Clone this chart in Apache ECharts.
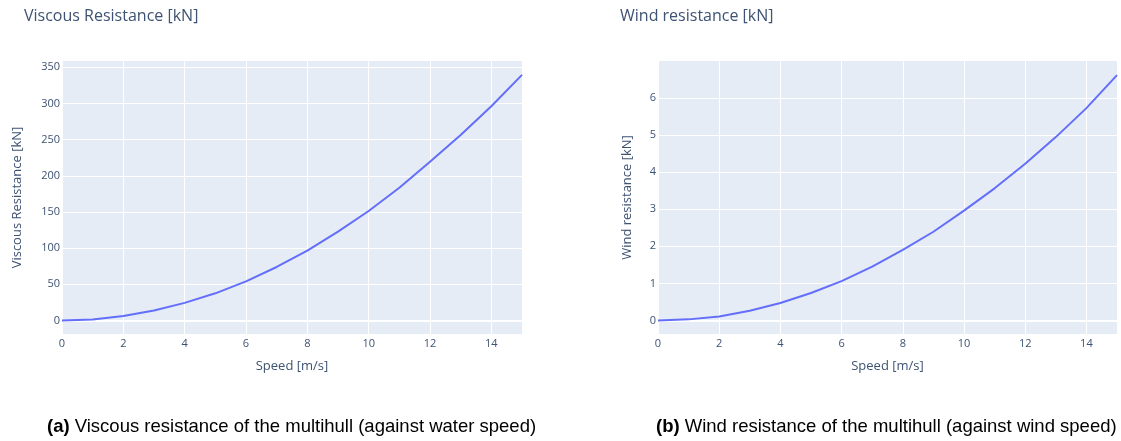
<!DOCTYPE html>
<html>
<head>
<meta charset="utf-8">
<title>Multihull resistance</title>
<script src="https://cdn.jsdelivr.net/npm/echarts@6/dist/echarts.min.js"></script>
<style>
  html, body { margin: 0; padding: 0; background: #ffffff; }
  #chart { width: 1121px; height: 441px; }
</style>
</head>
<body>
<div id="chart"></div>
<script>
// Speed samples [m/s]
const speed = [0, 1, 2, 3, 4, 5, 6, 7, 8, 9, 10, 11, 12, 13, 14, 15];
// Viscous resistance of the multihull [kN] against water speed
const viscousResistance = [0, 1.4, 6.2, 13.8, 24.4, 37.6, 54.2, 74, 96.6, 122.8, 151.4, 183.5, 219.5, 256.5, 296, 339.5];
// Wind resistance of the multihull [kN] against wind speed
const windResistance = [0, 0.03, 0.11, 0.26, 0.47, 0.74, 1.06, 1.45, 1.9, 2.39, 2.96, 3.56, 4.22, 4.94, 5.72, 6.61];

const speedTicks = [0, 2, 4, 6, 8, 10, 12, 14];
const viscousTicks = [0, 50, 100, 150, 200, 250, 300, 350];
const windTicks = [0, 1, 2, 3, 4, 5, 6];

const INK = '#3e5273';
const PLOT_BG = '#E5ECF6';
const LINE = '#636EFA';
const FONT = '"Open Sans", "DejaVu Sans", sans-serif';
const CAPTION_FONT = '"Liberation Sans", Arial, sans-serif';

const pairs = (xs, ys) => xs.map((x, i) => [x, ys[i]]);

function xAxisFor(gridIndex) {
  return {
    type: 'value', gridIndex, min: 0, max: 15,
    name: 'Speed [m/s]', nameLocation: 'middle', nameGap: 26,
    nameTextStyle: { color: INK, fontFamily: FONT, fontSize: 13 },
    axisLine: { show: false },
    axisTick: { show: false, customValues: speedTicks },
    axisLabel: { customValues: speedTicks, color: INK, fontFamily: FONT, fontSize: 11, margin: 4 },
    splitLine: { show: true, lineStyle: { color: '#ffffff', width: 1 } }
  };
}

function yAxisFor(gridIndex, name, min, max, ticks, gap) {
  return {
    type: 'value', gridIndex, min, max,
    name, nameLocation: 'middle', nameGap: gap,
    nameTextStyle: { color: INK, fontFamily: FONT, fontSize: 13 },
    axisLine: { show: false },
    axisTick: { show: false, customValues: ticks },
    axisLabel: { customValues: ticks, color: INK, fontFamily: FONT, fontSize: 11, margin: 2 },
    splitLine: { show: true, lineStyle: { color: '#ffffff', width: 1 } }
  };
}

function curve(xAxisIndex, yAxisIndex, ys) {
  return {
    type: 'line', xAxisIndex, yAxisIndex,
    data: pairs(speed, ys),
    showSymbol: false, symbol: 'none',
    lineStyle: { color: LINE, width: 2 },
    itemStyle: { color: LINE },
    z: 3,
    markLine: {
      silent: true, symbol: 'none', z: 1,
      label: { show: false },
      lineStyle: { color: '#ffffff', width: 2, type: 'solid' },
      data: [{ yAxis: 0 }]
    }
  };
}

function caption(text, left) {
  return {
    text, left, top: 417, padding: 0,
    textStyle: {
      color: '#000000', fontFamily: CAPTION_FONT, fontSize: 18.5, fontWeight: 'normal',
      rich: { b: { fontWeight: 'bold', fontFamily: CAPTION_FONT, fontSize: 18.5, color: '#000000' } }
    }
  };
}

const chart = echarts.init(document.getElementById('chart'), null, { renderer: 'canvas' });
chart.setOption({
  animation: false,
  backgroundColor: '#ffffff',
  title: [
    { text: 'Viscous Resistance [kN]', left: 24, top: 8, padding: 0,
      textStyle: { color: INK, fontFamily: FONT, fontSize: 16, fontWeight: 'normal' } },
    { text: 'Wind resistance [kN]', left: 620, top: 8, padding: 0,
      textStyle: { color: INK, fontFamily: FONT, fontSize: 16, fontWeight: 'normal' } },
    caption('{b|(a)} Viscous resistance of the multihull (against water speed)', 47),
    caption('{b|(b)} Wind resistance of the multihull (against wind speed)', 656)
  ],
  grid: [
    { left: 62, top: 61, width: 460, height: 273, show: true, backgroundColor: PLOT_BG, borderWidth: 0, containLabel: false },
    { left: 658, top: 61, width: 459, height: 273, show: true, backgroundColor: PLOT_BG, borderWidth: 0, containLabel: false }
  ],
  xAxis: [xAxisFor(0), xAxisFor(1)],
  yAxis: [
    yAxisFor(0, 'Viscous Resistance [kN]', -18.6, 358.6, viscousTicks, 38),
    yAxisFor(1, 'Wind resistance [kN]', -0.364, 6.99, windTicks, 24)
  ],
  series: [
    curve(0, 0, viscousResistance),
    curve(1, 1, windResistance)
  ]
});
</script>
</body>
</html>
